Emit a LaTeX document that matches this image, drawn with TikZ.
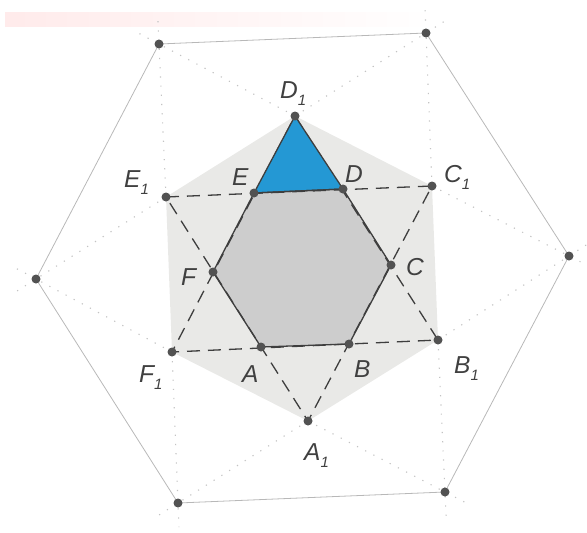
\documentclass[tikz,border=0pt]{standalone}
\usepackage{fontspec}
\usepackage{xcolor}
\usetikzlibrary{calc}
\newfontfamily\lblfont{Liberation Sans}
\definecolor{hexblue}{RGB}{36,152,212}
\definecolor{edgegray}{RGB}{62,62,62}
\definecolor{midgray}{RGB}{233,233,231}
\definecolor{ingray}{RGB}{205,205,205}
\definecolor{auxgray}{RGB}{195,195,195}
\newcommand{\lsub}[1]{\raisebox{-0.3em}{\fontsize{15}{15}\selectfont #1}}

\begin{document}
\begin{tikzpicture}[x=1pt, y=-1pt,
  dot/.style={fill=black!68},
  lbl/.style={anchor=base west, inner sep=0pt, text=black!75,
    font=\lblfont\itshape\fontsize{24.5}{27}\selectfont},
  hidden/.style={draw=edgegray, line width=1.3pt, dash pattern=on 13pt off 8pt},
  aux/.style={draw=auxgray, line width=1.1pt, dash pattern=on 1.2pt off 8pt},
  frame/.style={draw=black!28, line width=0.8pt},
  edge/.style={draw=edgegray, line width=1.3pt, line join=round}]
\useasboundingbox (0,0) rectangle (587,533);
% scanner tint at the top
\shade[left color=red!8, right color=white] (5,12) rectangle (440,26);
% outer hexagon
\coordinate (O1) at (159,44);
\coordinate (O2) at (426,33);
\coordinate (O3) at (569,256);
\coordinate (O4) at (445,492);
\coordinate (O5) at (178,503);
\coordinate (O6) at (36,279);
% middle hexagon
\coordinate (D1) at (295,116);
\coordinate (C1) at (432,186);
\coordinate (B1) at (438,340);
\coordinate (A1) at (308,421);
\coordinate (F1) at (172,352);
\coordinate (E1) at (166,197);
% inner hexagon
\coordinate (A) at (261,347);
\coordinate (B) at (349,344);
\coordinate (C) at (391,265);
\coordinate (D) at (343,189);
\coordinate (E) at (254,193);
\coordinate (F) at (213,272);

\draw[frame] (O1) -- (O2) -- (O3) -- (O4) -- (O5) -- (O6) -- cycle;
% construction lines through the outer vertices
\foreach \p/\o in {E1/O1, D1/O1, D1/O2, C1/O2, C1/O3, B1/O3,
                   B1/O4, A1/O4, A1/O5, F1/O5, F1/O6, E1/O6}
  \draw[aux] (\p) -- ($(\p)!1.16!(\o)$);

\fill[midgray] (D1) -- (C1) -- (B1) -- (A1) -- (F1) -- (E1) -- cycle;
\fill[ingray] (A) -- (B) -- (C) -- (D) -- (E) -- (F) -- cycle;
% the two big triangles
\draw[hidden] (E1) -- (C1) -- (A1) -- cycle;
\draw[hidden] (D1) -- (B1) -- (F1) -- cycle;
\filldraw[edge, fill=hexblue] (D1) -- (D) -- (E) -- cycle;
\draw[edge] (A) -- (B) -- (C) -- (D) -- (E) -- (F) -- cycle;

\foreach \p in {O1,O2,O3,O4,O5,O6,A1,B1,C1,D1,E1,F1,A,B,C,D,E,F}
  \fill[dot] (\p) circle[radius=4.5pt];

% labels
\node[lbl] (lD1) at (280,98) {D\lsub{1}};
\node[lbl] (lE1) at (124,187) {E\lsub{1}};
\node[lbl] (lE) at (232,185) {E};
\node[lbl] (lD) at (345,182) {D};
\node[lbl] (lC1) at (444,182) {C\lsub{1}};
\node[lbl] (lC) at (406,275) {C};
\node[lbl] (lB1) at (454,373) {B\lsub{1}};
\node[lbl] (lB) at (354,377) {B};
\node[lbl] (lA) at (242,382) {A};
\node[lbl] (lA1) at (304,460) {A\lsub{1}};
\node[lbl] (lF) at (181,285) {F};
\node[lbl] (lF1) at (139,382) {F\lsub{1}};
\end{tikzpicture}
\end{document}
